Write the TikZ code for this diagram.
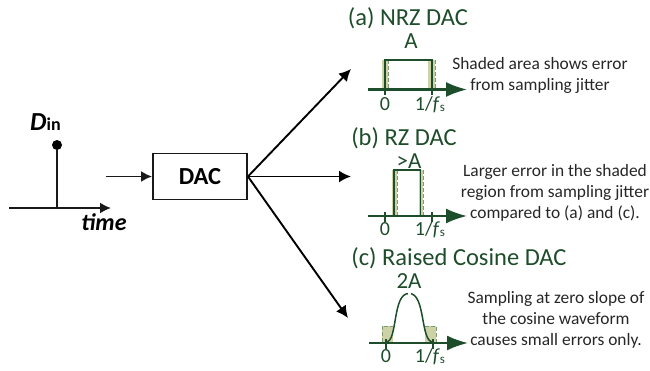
\documentclass[tikz,border=0pt]{standalone}
\usepackage{fontspec}
\setmainfont{Carlito}
\usetikzlibrary{arrows.meta}
\definecolor{dg}{HTML}{1E4D2B}
\definecolor{bandc}{HTML}{CDD2A6}
\definecolor{dashc}{HTML}{7F9A70}
\tikzset{
 x=1pt,y=-1pt,
 blk/.style={line width=1.9pt,draw=black!90},
 blkarrow/.style={blk,-{Latex[length=11pt,width=11pt]}},
 fan/.style={line width=1.9pt,draw=black,-{Latex[length=12pt,width=12pt]}},
 axisg/.style={line width=2.2pt,draw=dg,-{Latex[length=21pt,width=15pt]}},
 wave/.style={line width=1.5pt,draw=dg},
 tick/.style={line width=1.4pt,draw=dg},
 jit/.style={line width=.8pt,draw=dashc,dash pattern=on 4pt off 2pt},
 ttl/.style={font=\fontsize{24.5}{26}\selectfont,text=dg,inner sep=0pt,anchor=base},
 val/.style={font=\fontsize{23}{25}\selectfont,text=dg,inner sep=0pt,anchor=base},
 axl/.style={font=\fontsize{20}{22}\selectfont,text=dg,inner sep=0pt,anchor=base},
 note/.style={font=\fontsize{17.4}{21}\selectfont,align=center,inner sep=0pt,text=black!85},
 dacbox/.style={blk,minimum width=94pt,minimum height=46pt,font=\fontsize{24.5}{26}\selectfont\bfseries,inner sep=0pt},
}
\begin{document}
\begin{tikzpicture}
\useasboundingbox (0,0) rectangle (650,370);
% left part
\coordinate (t0) at (9,208); \coordinate (t1) at (111,208);
\draw[blkarrow] (t0) -- (t1);
\coordinate (stem) at (57,208);
\node[circle,fill=black,minimum size=10pt,inner sep=0pt] (dot) at (57,145) {};
\draw[blk] (stem) -- (dot);
\node[inner sep=0pt,anchor=base west] (din) at (30,130) {\fontsize{26}{28}\selectfont\bfseries\itshape D\fontsize{18}{20}\selectfont\upshape in};
\node[inner sep=0pt,anchor=base] (time) at (104,230) {\fontsize{24}{26}\selectfont\bfseries\itshape time};
\node[dacbox,draw] (dac) at (200,176.5) {DAC};
\coordinate (in) at (106,176.5);
\draw[blkarrow] (in) -- (dac.west);
\coordinate (fa) at (351,69); \coordinate (fb) at (351,176.5); \coordinate (fc) at (348,318);
\draw[fan] (dac.east) -- (fa);
\draw[fan] (dac.east) -- (fb);
\draw[fan] (dac.east) -- (fc);
% (a)
\node[ttl] (ta) at (408,25) {(a) NRZ DAC};
\node[val] (va) at (411,48) {A};
\fill[bandc] (382,60) rectangle (388,89);
\fill[bandc] (428,60) rectangle (435,89);
\draw[jit] (388,60) -- (388,89);
\draw[jit] (435,60) -- (435,89);
\draw[wave] (385,89) -- (385,60) -- (432,60) -- (432,89);
\draw[axisg] (368,89.5) -- (467,89.5);
\draw[tick] (385,85) -- (385,95);
\draw[tick] (432,85) -- (432,95);
\node[axl] (a0) at (385,110) {0};
\node[axl] (a1) at (430,110) {1/\textit{f}\raisebox{-1.5pt}{\fontsize{13}{14}\selectfont s}};
\node[note] (na) at (540,75) {Shaded area shows error\\from sampling jitter};
% (b)
\node[ttl] (tb) at (404,145) {(b) RZ DAC};
\node[val] (vb) at (409,168) {>A};
\fill[bandc] (392,170) rectangle (397,215);
\fill[bandc] (419,170) rectangle (423,215);
\draw[jit] (397,170) -- (397,215);
\draw[jit] (423,170) -- (423,215);
\draw[wave] (394,215) -- (394,170) -- (420.5,170) -- (420.5,215);
\draw[axisg] (368,216) -- (467,216);
\draw[tick] (385,212) -- (385,222);
\draw[tick] (432,212) -- (432,222);
\node[axl] (b0) at (385,235) {0};
\node[axl] (b1) at (430,235) {1/\textit{f}\raisebox{-1.5pt}{\fontsize{13}{14}\selectfont s}};
\node[note] (nb) at (555,193) {Larger error in the shaded\\region from sampling jitter\\compared to (a) and (c).};
% (c)
\node[ttl] (tc) at (459,265) {(c) Raised Cosine DAC};
\node[val] (vc) at (409,288) {2A};
\fill[bandc] (382,326) rectangle (393,342);
\fill[bandc] (425,326) rectangle (436,342);
\draw[jit] (382,342) -- (382,326) -- (393,326);
\draw[jit] (425,326) -- (436,326) -- (436,342);
\draw[wave] (386,342) .. controls (398,342) and (392,293) .. (409,293.5) .. controls (426,293) and (420,342) .. (433,342);
\fill[white] (407.5,290) rectangle (411,297);
\draw[axisg] (369,343) -- (468,343);
\draw[tick] (386,339) -- (386,349);
\draw[tick] (433,339) -- (433,349);
\node[axl] (c0) at (386,362) {0};
\node[axl] (c1) at (430,362) {1/\textit{f}\raisebox{-1.5pt}{\fontsize{13}{14}\selectfont s}};
\node[note] (nc) at (556,320) {Sampling at zero slope of\\the cosine waveform\\causes small errors only.};
\end{tikzpicture}
\end{document}
